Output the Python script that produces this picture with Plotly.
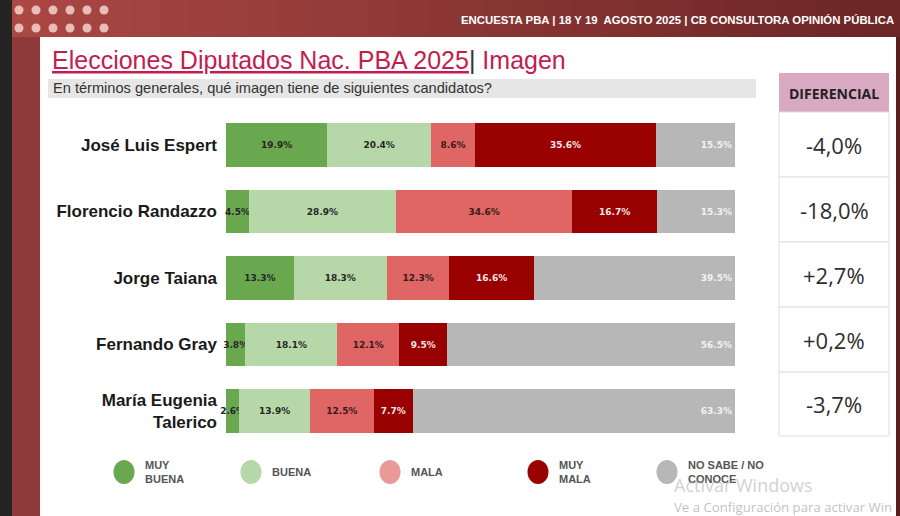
import plotly.graph_objects as go

# ---------------- data ----------------
candidates = ["José Luis Espert", "Florencio Randazzo", "Jorge Taiana",
              "Fernando Gray", "María Eugenia<br>Talerico"]
categories = ["MUY BUENA", "BUENA", "MALA", "MUY MALA", "NO SABE / NO CONOCE"]
muy_buena = [19.9, 4.5, 13.3, 3.8, 2.6]
buena = [20.4, 28.9, 18.3, 18.1, 13.9]
mala = [8.6, 34.6, 12.3, 12.1, 12.5]
muy_mala = [35.6, 16.7, 16.6, 9.5, 7.7]
no_sabe = [15.5, 15.3, 39.5, 56.5, 63.3]
diferencial = ["-4,0%", "-18,0%", "+2,7%", "+0,2%", "-3,7%"]
legend_labels = ["MUY<br>BUENA", "BUENA", "MALA", "MUY<br>MALA", "NO SABE / NO<br>CONOCE"]

W, H = 900, 516
def px(x): return x / W
def py(y): return 1 - y / H

colors = ["#6aa84f", "#b6d7a8", "#e06666", "#990000", "#b7b7b7"]
legend_colors = ["#6aa84f", "#b6d7a8", "#ea9999", "#990000", "#b7b7b7"]
text_colors = ["#262626", "#262626", "#3a1a1a", "#f4e6e6", "#f2f2f2"]
series = [muy_buena, buena, mala, muy_mala, no_sabe]

fig = go.Figure()
for name, vals, col, tcol in zip(categories, series, colors, text_colors):
    fig.add_trace(go.Bar(
        y=candidates, x=vals, name=name, orientation="h",
        marker=dict(color=col, line=dict(width=0)),
        text=[f"{v:.1f}%" for v in vals],
        textposition="inside", textangle=0, cliponaxis=False,
        insidetextanchor="end" if name.startswith("NO SABE") else "middle",
        constraintext="none",
        textfont=dict(family="DejaVu Sans", size=9, color=tcol, weight="bold"),
        hoverinfo="skip", showlegend=False,
    ))

row_top, row_step = 111.75, 66.5
fig.update_layout(
    width=W, height=H, margin=dict(l=0, r=0, t=0, b=0),
    paper_bgcolor="white", plot_bgcolor="rgba(0,0,0,0)",
    barmode="stack", bargap=0.35,
    xaxis=dict(domain=[px(226), px(735)], range=[0, 100], visible=False, fixedrange=True),
    yaxis=dict(domain=[py(row_top + 5 * row_step), py(row_top)],
               autorange="reversed", showgrid=False, zeroline=False, showline=False,
               ticks="", ticklabelstandoff=8,
               tickfont=dict(family="Liberation Sans, Arial", size=17, color="#1a1a1a",
                             weight="bold")),
)

shapes = []
# left dark strip & maroon frame
shapes.append(dict(type="rect", xref="paper", yref="paper", x0=0, x1=px(12), y0=0, y1=1,
                   fillcolor="#242424", line=dict(width=0), layer="below"))
shapes.append(dict(type="rect", xref="paper", yref="paper", x0=px(12), x1=px(40), y0=0, y1=1,
                   fillcolor="#8e3a3a", line=dict(width=0), layer="below"))
# header gradient band
n = 30
c0 = (170, 72, 68)
c1 = (108, 38, 38)
for i in range(n):
    t = i / (n - 1)
    c = tuple(int(c0[k] + (c1[k] - c0[k]) * t) for k in range(3))
    x0 = 12 + (W - 12) * i / n
    x1 = 12 + (W - 12) * (i + 1) / n + 1
    shapes.append(dict(type="rect", xref="paper", yref="paper", x0=px(x0), x1=px(min(x1, W)),
                       y0=py(37), y1=1, fillcolor="rgb(%d,%d,%d)" % c, line=dict(width=0),
                       layer="below"))
# right thin dark edge
shapes.append(dict(type="rect", xref="paper", yref="paper", x0=px(896), x1=1, y0=0, y1=py(37),
                   fillcolor="#5a2020", line=dict(width=0), layer="below"))
# dots
for yy in (10, 28):
    for k in range(6):
        cx = 19 + k * 17
        shapes.append(dict(type="circle", xref="paper", yref="paper",
                           x0=px(cx - 4.5), x1=px(cx + 4.5), y0=py(yy + 4.5), y1=py(yy - 4.5),
                           fillcolor="#e9bdb5", line=dict(width=0), layer="below"))
# subtitle band
shapes.append(dict(type="rect", xref="paper", yref="paper", x0=px(48), x1=px(756),
                   y0=py(98), y1=py(79), fillcolor="#e6e6e6", line=dict(width=0), layer="below"))
# table header
shapes.append(dict(type="rect", xref="paper", yref="paper", x0=px(779), x1=px(889),
                   y0=py(112), y1=py(73), fillcolor="#d9a8c1", line=dict(width=0), layer="below"))
# table cells
cell_edges = [112, 177, 242, 307, 372, 436]
for i in range(5):
    shapes.append(dict(type="rect", xref="paper", yref="paper", x0=px(779), x1=px(889),
                       y0=py(cell_edges[i + 1]), y1=py(cell_edges[i]), fillcolor="white",
                       line=dict(width=1, color="#dedede"), layer="below"))
# legend markers
leg_x = [124, 251, 390, 538, 667]
for cx, col in zip(leg_x, legend_colors):
    shapes.append(dict(type="circle", xref="paper", yref="paper",
                       x0=px(cx - 10.5), x1=px(cx + 10.5), y0=py(484), y1=py(460),
                       fillcolor=col, line=dict(width=0)))
fig.update_layout(shapes=shapes)

ann = []
ann.append(dict(x=px(896), y=py(20), xref="paper", yref="paper", xanchor="right", yanchor="middle",
                text="<b>ENCUESTA PBA | 18 Y 19  AGOSTO 2025 | CB CONSULTORA OPINIÓN PÚBLICA</b>",
                showarrow=False, font=dict(family="Liberation Sans Narrow, Arial Narrow, Arial",
                                           size=11.4, color="white")))
ann.append(dict(x=px(50), y=py(60), xref="paper", yref="paper", xanchor="left", yanchor="middle",
                text="<u>Elecciones Diputados Nac. PBA 2025</u><span style='color:#333'>|</span> Imagen",
                showarrow=False, font=dict(family="Liberation Sans Narrow, Arial Narrow, Arial",
                                           size=25, color="#c21d4f")))
ann.append(dict(x=px(51), y=py(88.5), xref="paper", yref="paper", xanchor="left", yanchor="middle",
                text="En términos generales, qué imagen tiene de siguientes candidatos?",
                showarrow=False, font=dict(family="Liberation Sans Narrow, Arial Narrow, Arial",
                                           size=14.6, color="#333333")))
ann.append(dict(x=px(834), y=py(93), xref="paper", yref="paper", xanchor="center", yanchor="middle",
                text="<b>DIFERENCIAL</b>", showarrow=False,
                font=dict(family="Open Sans", size=14, color="#222222")))
for i, d in enumerate(diferencial):
    yc = (cell_edges[i] + cell_edges[i + 1]) / 2
    ann.append(dict(x=px(834), y=py(yc), xref="paper", yref="paper", xanchor="center",
                    yanchor="middle", text=d, showarrow=False,
                    font=dict(family="Open Sans", size=22, color="#2e2e2e")))
for cx, lab in zip(leg_x, legend_labels):
    ann.append(dict(x=px(cx + 19), y=py(472), xref="paper", yref="paper", xanchor="left",
                    yanchor="middle", align="left", text="<b>" + lab + "</b>", showarrow=False,
                    font=dict(family="Liberation Sans, Arial", size=11, color="#555555")))
# OS watermark overlay (as visible in the screenshot)
ann.append(dict(x=px(672), y=py(485), xref="paper", yref="paper", xanchor="left", yanchor="middle",
                text="Activar Windows", showarrow=False,
                font=dict(family="Open Sans", size=18, color="rgba(170,170,170,0.55)")))
ann.append(dict(x=px(672), y=py(507), xref="paper", yref="paper", xanchor="left", yanchor="middle",
                text="Ve a Configuración para activar Win", showarrow=False,
                font=dict(family="Open Sans", size=13.2, color="rgba(150,150,150,0.6)")))
fig.update_layout(annotations=ann)

fig.write_html("out.html")
